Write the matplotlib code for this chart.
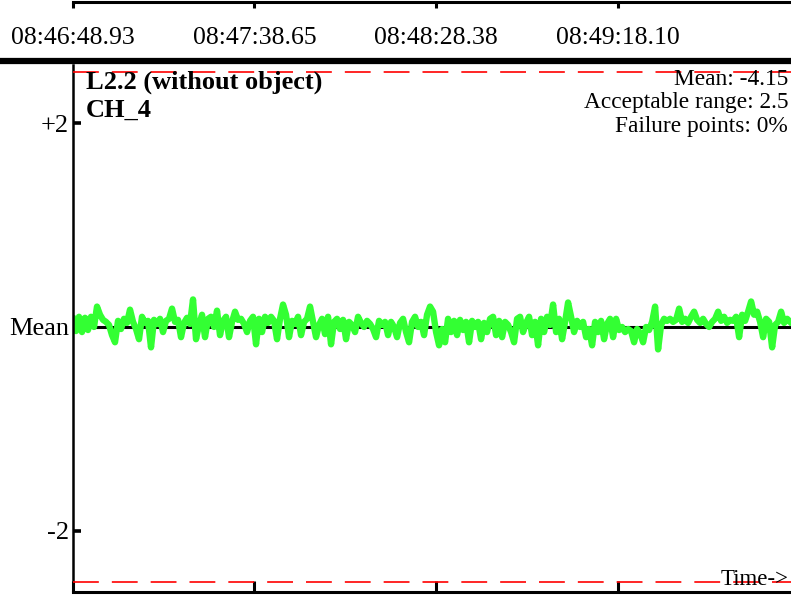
import numpy as np
import matplotlib.pyplot as plt
from matplotlib.lines import Line2D
from matplotlib.transforms import blended_transform_factory

plt.rcParams['font.family'] = ['Liberation Serif', 'DejaVu Serif']

# deviation from mean, one sample every ~0.82 s
deviation = [
    0.08, -0.04, 0.1, -0.05, 0.09, -0.03, 0.1, 0.0, 0.2, 0.12, 0.07, 0.05, 0.02, -0.08, -0.15, 0.06, -0.02, 0.08, 0.04, 0.17,
    0.05, -0.02, -0.12, 0.1, 0.04, 0.06, -0.2, 0.07, 0.03, 0.08, -0.05, 0.06, 0.08, 0.18, 0.05, 0.07, -0.1, 0.04, 0.09, 0.03,
    0.27, -0.12, 0.02, 0.12, -0.1, 0.08, 0.1, 0.0, 0.16, -0.08, 0.06, 0.1, -0.1, 0.05, 0.15, 0.07, 0.08, 0.03, -0.05, 0.06,
    0.1, -0.17, 0.08, -0.05, 0.1, 0.04, 0.1, 0.06, -0.12, 0.08, 0.22, 0.12, -0.1, 0.06, 0.03, 0.1, -0.08, 0.05, 0.08, 0.2,
    0.05, -0.1, 0.02, 0.08, -0.07, 0.1, -0.17, 0.05, 0.08, -0.02, 0.07, -0.12, 0.05, 0.02, -0.05, 0.1, 0.04, 0.0, 0.06, 0.03,
    -0.02, -0.1, 0.06, 0.02, 0.05, -0.08, 0.05, 0.0, -0.1, 0.04, 0.08, -0.05, -0.15, 0.05, 0.1, 0.0, 0.05, -0.08, 0.12, 0.2,
    0.15, -0.05, -0.18, -0.02, -0.15, 0.08, -0.05, 0.06, -0.08, 0.07, -0.03, 0.05, -0.15, 0.06, 0.0, 0.05, -0.12, 0.04, -0.05, 0.08,
    0.1, -0.08, 0.06, -0.1, 0.05, 0.02, -0.05, -0.15, 0.08, 0.1, -0.05, 0.04, 0.1, -0.08, 0.05, -0.18, 0.08, -0.05, 0.1, 0.02,
    0.22, -0.05, 0.08, -0.12, 0.05, 0.24, 0.1, -0.05, 0.06, 0.0, 0.05, -0.1, -0.02, -0.18, 0.05, -0.05, 0.06, -0.12, 0.03, 0.08,
    -0.1, 0.08, -0.03, 0.0, -0.05, -0.02, -0.04, -0.15, -0.02, -0.06, -0.15, 0.0, -0.03, 0.05, 0.2, -0.22, 0.02, 0.08, 0.06, 0.08,
    0.05, 0.07, 0.18, 0.05, 0.08, 0.04, 0.1, 0.15, 0.07, 0.04, 0.08, 0.03, 0.0, 0.05, 0.08, 0.15, 0.06, 0.1, 0.04, 0.07,
    0.06, 0.1, -0.1, 0.12, 0.06, 0.15, 0.25, 0.12, 0.15, 0.05, -0.1, 0.08, 0.05, -0.2, 0.02, 0.05, 0.15, 0.04, 0.08, 0.05,
]
sample_step = 0.822
time_labels = ['08:46:48.93', '08:47:38.65', '08:48:28.38', '08:49:18.10']
acceptable_range = 2.5
ytick_vals = [2, 0, -2]
ytick_text = ['+2', 'Mean', '-2']
title_lines = ['L2.2 (without object)', 'CH_4']
stats_lines = ['Mean: -4.15', 'Acceptable range: 2.5', 'Failure points: 0%']


def to_sec(s):
    h, m, sec = s.split(':')
    return int(h) * 3600 + int(m) * 60 + float(sec)

t0 = to_sec(time_labels[0])
tick_pos = [to_sec(s) - t0 for s in time_labels]
t = np.arange(len(deviation)) * sample_step

fig = plt.figure(figsize=(7.91, 6.02), dpi=100)
W, H = 791, 602
left = 73 / W
ax_top_px, ax_bot_px = 65, 592
ax_h = ax_bot_px - ax_top_px

ax = fig.add_axes([left, (H - ax_bot_px) / H, 1 - left, ax_h / H])
ax.set_xlim(0, 196.7)
ax.set_ylim(-2.6, 2.57)

ax.axhline(0, color='black', lw=2.2, zorder=1)
ax.plot(t, deviation, color='#33ff33', lw=4.6, zorder=2)
for y in (acceptable_range, -acceptable_range):
    ax.axhline(y, color='red', lw=1.2, dashes=(15.5, 7.8), zorder=3)

for side in ('top', 'right'):
    ax.spines[side].set_visible(False)
ax.spines['left'].set_linewidth(1.8)
ax.spines['bottom'].set_linewidth(2.2)

ax.set_xticks(tick_pos)
ax.set_xticklabels([])
ax.tick_params(axis='x', direction='in', length=8, width=2.2)
ax.set_yticks(ytick_vals)
ax.set_yticklabels(ytick_text, fontsize=19)
ax.tick_params(axis='y', direction='in', length=6, width=2.6, pad=3)


def ay(px):
    # pixel row -> axes fraction
    return (ax_bot_px - px) / ax_h

ax.text(0.018, ay(89), title_lines[0], transform=ax.transAxes, fontsize=19,
        fontweight='bold', va='baseline', ha='left')
ax.text(0.018, ay(117), title_lines[1], transform=ax.transAxes, fontsize=19,
        fontweight='bold', va='baseline', ha='left')
for row, line in zip([85, 108, 132], stats_lines):
    ax.text(0.996, ay(row), line, transform=ax.transAxes, fontsize=16.8,
            va='baseline', ha='right')
ax.text(0.996, ay(585), 'Time->', transform=ax.transAxes, fontsize=16.5,
        va='baseline', ha='right')

# top time strip
ax_top = fig.add_axes([left, 1 - 58 / H, 1 - left, 56.5 / H])
ax_top.set_xlim(ax.get_xlim())
ax_top.set_ylim(0, 1)
for side in ('bottom', 'left', 'right'):
    ax_top.spines[side].set_visible(False)
ax_top.spines['top'].set_linewidth(2.2)
ax_top.set_yticks([])
ax_top.set_xticks(tick_pos)
ax_top.xaxis.set_ticks_position('top')
ax_top.tick_params(axis='x', direction='in', length=4, width=2.2, labeltop=False, labelbottom=False)
ax_top.patch.set_alpha(0)

trans = blended_transform_factory(ax_top.transData, fig.transFigure)
for pos, lab in zip(tick_pos, time_labels):
    ax_top.text(pos, 1 - 44 / H, lab, transform=trans, fontsize=18.5,
                ha='center', va='baseline', clip_on=False)

fig.add_artist(Line2D([0, 1], [1 - 61 / H, 1 - 61 / H], transform=fig.transFigure,
                      color='black', lw=4.5))

fig.savefig('out.png', dpi=100)
